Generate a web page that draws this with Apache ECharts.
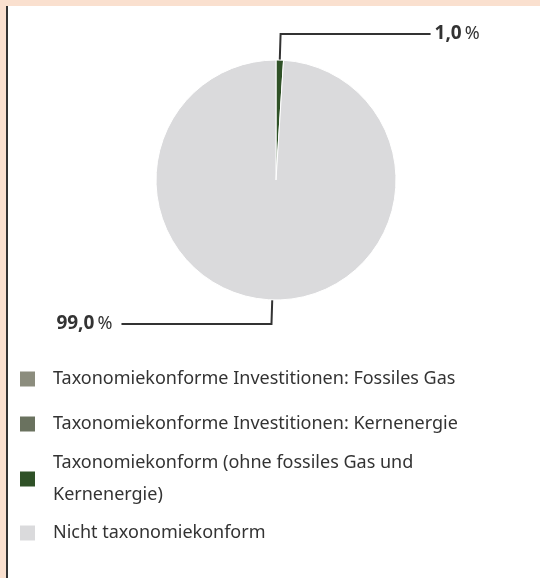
<!DOCTYPE html>
<html>
<head>
<meta charset="utf-8">
<script src="https://cdn.jsdelivr.net/npm/echarts@6/dist/echarts.min.js"></script>
<style>
  html, body { margin: 0; padding: 0; background: #fae0cf; }
  #frame {
    position: absolute; left: 6px; top: 6px; width: 532px; height: 572px;
    border-left: 2px solid #333; background: #fff;
  }
  #chart { width: 532px; height: 572px; }
</style>
</head>
<body>
<div id="frame"><div id="chart"></div></div>
<script>
// categories and values (percent of investments)
const categories = [
  "Taxonomiekonforme Investitionen: Fossiles Gas",
  "Taxonomiekonforme Investitionen: Kernenergie",
  "Taxonomiekonform (ohne fossiles Gas und Kernenergie)",
  "Nicht taxonomiekonform"
]
const values = [0, 0, 1.0, 99.0]
const colors = ["#8c8d7e", "#6a725f", "#2f5127", "#dadadc"]
const legendLabels = [
  "Taxonomiekonforme Investitionen: Fossiles Gas",
  "Taxonomiekonforme Investitionen: Kernenergie",
  "Taxonomiekonform (ohne fossiles Gas und\nKernenergie)",
  "Nicht taxonomiekonform"
]

const FONT = "Noto Sans"
const chart = echarts.init(document.getElementById("chart"))

// one legend per item so the wrapped entry sits like the original
const legendTops = [363, 408, 441, 517]
const legends = categories.map((name, i) => ({
  data: [name],
  left: 10,
  top: legendTops[i],
  padding: 0,
  icon: "rect",
  itemWidth: 17,
  itemHeight: 17,
  selectedMode: false,
  formatter: () => legendLabels[i],
  textStyle: {
    fontFamily: FONT,
    fontSize: 18,
    color: "#333",
    lineHeight: i === 2 ? 32 : 20,
    padding: [0, 0, 0, 12]
  }
}))

// leader line lengths per slice (edge -> elbow, elbow -> label)
const lineLen = [0, 0, 26, 24]
const lineLen2 = [0, 0, 150, 150]
const labelGap = [0, 0, 4, 9]

const option = {
  animation: false,
  legend: legends,
  series: [{
    type: "pie",
    center: [268, 174],
    radius: 120,
    startAngle: 90,
    clockwise: true,
    emphasis: { disabled: true },
    itemStyle: { borderColor: "#fff", borderWidth: 1 },
    labelLine: { lineStyle: { color: "#333", width: 2 } },
    label: {
      fontFamily: FONT,
      color: "#333",
      formatter: p => "{b|" + p.value.toFixed(1).replace(".", ",") + "} {n|%}",
      rich: {
        b: { fontFamily: FONT, fontSize: 19, fontWeight: "bold", color: "#333" },
        n: { fontFamily: FONT, fontSize: 18, color: "#333" }
      }
    },
    data: categories.map((name, i) => ({
      name,
      value: values[i],
      itemStyle: { color: colors[i] },
      label: { show: values[i] > 0, distanceToLabelLine: labelGap[i] },
      labelLine: { show: values[i] > 0, length: lineLen[i], length2: lineLen2[i] }
    }))
  }]
}
chart.setOption(option)
</script>
</body>
</html>
